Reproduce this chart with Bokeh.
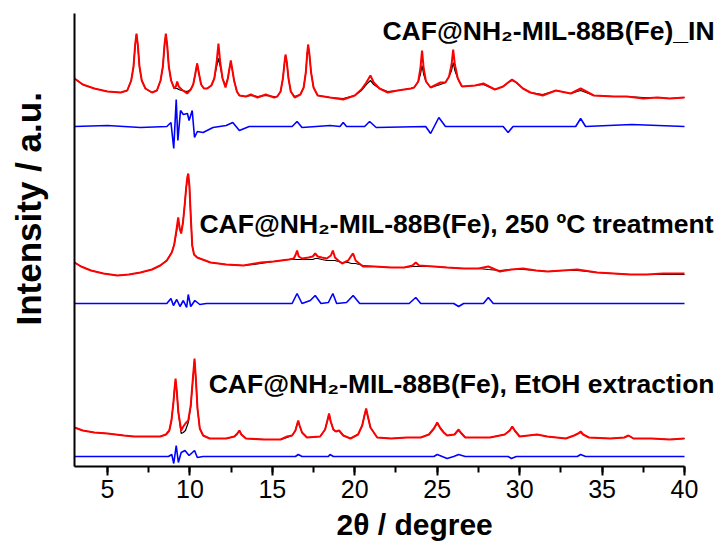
from bokeh.plotting import figure
from bokeh.models import Range1d, SingleIntervalTicker, FixedTicker, Label, Title
from bokeh.embed import file_html
from bokeh.resources import INLINE

# ---------------- data (intensity, arbitrary units) ----------------
# Top: CAF@NH2-MIL-88B(Fe)_IN
top_x = [3.0, 3.5, 4.2, 5.0, 5.8, 6.2, 6.44, 6.58, 6.68, 6.76,
         6.84, 6.94, 7.08, 7.3, 7.7, 8.0, 8.22, 8.36, 8.46, 8.54,
         8.62, 8.72, 8.86, 9.05, 9.15, 9.23, 9.32, 9.5, 9.83, 10.05,
         10.2, 10.32, 10.44, 10.56, 10.68, 10.85, 11.05, 11.3, 11.48, 11.62,
         11.73, 11.84, 11.98, 12.16, 12.3, 12.4, 12.48, 12.56, 12.68, 12.85,
         13.0, 13.4, 13.7, 14.1, 14.6, 15.1, 15.3, 15.5, 15.64, 15.74,
         15.8, 15.88, 15.98, 16.12, 16.35, 16.7, 16.9, 17.03, 17.11, 17.17,
         17.25, 17.35, 17.5, 17.75, 18.5, 19.3, 20.0, 20.4, 20.7, 20.95,
         21.15, 21.5, 22.0, 22.6, 23.4, 23.6, 23.85, 23.98, 24.08, 24.18,
         24.32, 24.6, 25.2, 25.5, 25.72, 25.87, 25.97, 26.07, 26.25, 26.5,
         27.3, 27.8, 28.5, 29.0, 29.3, 29.54, 29.8, 30.2, 30.65, 31.4,
         32.2, 33.1, 33.7, 34.5, 35.7, 36.5, 37.5, 38.35, 39.1, 40.0]
top_obs = [28, 22, 18, 15, 14, 16, 26, 40, 62, 73,
           62, 40, 26, 18, 14, 16, 26, 40, 62, 73,
           62, 40, 26, 18, 20, 25, 20, 17, 13, 17,
           22, 32, 43, 32, 22, 18, 18, 21, 28, 44,
           63, 44, 28, 19, 28, 38, 46, 38, 26, 15,
           11, 10, 12, 9, 12, 9, 10, 15, 28, 44,
           52, 44, 28, 15, 9, 12, 19, 34, 52, 62,
           52, 34, 19, 11, 9, 7, 11, 17, 24, 31,
           24, 18, 14, 16, 18, 19, 25, 38, 56, 38,
           25, 19, 24, 24, 30, 42, 57, 42, 28, 20,
           21, 23, 17, 20, 24, 27, 24, 18, 14, 11,
           16, 13, 18, 11, 10, 10, 8, 9, 8, 9]
top_calc = [28, 22, 18, 15, 14, 16, 26, 40, 61, 72,
            61, 40, 26, 18, 14, 16, 26, 40, 61, 72,
            61, 40, 26, 18, 18, 18, 17, 16, 15, 17,
            22, 32, 43, 32, 22, 18, 18, 21, 28, 40,
            48, 40, 28, 21, 28, 38, 45, 38, 26, 15,
            11, 10, 11, 10, 11, 10, 10, 15, 28, 44,
            51, 44, 28, 15, 10, 12, 19, 34, 52, 61,
            52, 34, 19, 11, 9, 8, 11, 16, 22, 26,
            22, 18, 15, 16, 18, 19, 25, 32, 41, 32,
            25, 19, 22, 24, 30, 36, 44, 36, 28, 20,
            21, 22, 17, 20, 24, 26, 24, 18, 14, 12,
            16, 13, 16, 11, 10, 10, 9, 9, 8, 9]
top_dx = [3.0, 5.0, 7.0, 8.6, 8.85, 9.02, 9.17, 9.27, 9.43, 9.6, 9.85, 9.95, 10.14, 10.28, 10.45, 10.8,
          11.4, 12.2, 12.6, 13.0, 13.6, 16.2, 16.5, 16.8, 18.5, 19.1, 19.3, 19.5, 20.6, 20.9, 21.3,
          24.3, 24.6, 25.1, 25.5, 29.0, 29.3, 29.6, 33.4, 33.7, 34.0, 36.8, 40.0]
top_diff = [0, 1, -1, 0, 4, -22, 27, -14, 16, 12, 13, 6, 16, -11, -5, -6,
            -1, 1, 4, -4, 0, 0, 5, -1, 1, 0, 4, 0, 0, 5, -1,
            0, -7, 9, 0, 0, -6, 0, 0, 8, 0, 2, 0]

# Middle: CAF@NH2-MIL-88B(Fe), 250 ºC treatment
mid_x = [3.0, 3.4, 4.0, 4.76, 5.6, 6.3, 7.0, 7.7, 8.2, 8.6,
         8.9, 9.05, 9.18, 9.29, 9.38, 9.47, 9.58, 9.68, 9.77, 9.84,
         9.9, 9.97, 10.05, 10.14, 10.25, 10.44, 11.25, 12.2, 13.25, 14.3,
         15.07, 16.0, 16.3, 16.42, 16.5, 16.6, 16.8, 17.2, 17.45, 17.6,
         17.75, 18.0, 18.3, 18.55, 18.67, 18.8, 19.0, 19.23, 19.6, 19.8,
         19.9, 20.05, 20.5, 21.2, 22.2, 23.0, 23.5, 23.7, 23.9, 24.8,
         25.6, 26.6, 27.5, 28.1, 28.8, 29.5, 30.2, 31.0, 31.7, 32.6,
         33.5, 34.7, 35.7, 36.7, 37.7, 38.7, 40.0]
mid_obs = [18, 14, 10, 7, 5, 6, 8, 11, 15, 20,
           28, 36, 50, 63, 52, 47, 58, 75, 92, 103,
           107, 95, 65, 35, 26, 23, 18, 16, 15, 18,
           19, 21, 22, 26, 30, 24, 22, 23, 24, 27,
           24, 23, 22, 25, 30, 23, 20, 17, 20, 25,
           27, 20, 14, 14, 13, 13, 15, 18, 15, 14,
           13, 12, 12, 14, 9, 11, 12, 10, 9, 10,
           11, 8, 7, 6, 6, 7, 7]
mid_calc = [18, 14, 10, 7, 5, 6, 8, 11, 15, 20,
            28, 36, 48, 60, 52, 48, 58, 75, 92, 101,
            104, 94, 65, 35, 26, 23, 18, 16, 15, 17,
            19, 21, 21, 21, 21, 21, 21, 21, 21, 22,
            22, 21, 20, 20, 20, 20, 19, 18, 18, 17,
            17, 17, 15, 14, 13, 13, 14, 14, 14, 14,
            13, 12, 12, 11, 10, 11, 11, 10, 9, 10,
            10, 8, 7, 6, 6, 6, 6]
mid_dx = [3.0, 8.6, 8.85, 9.0, 9.2, 9.4, 9.6, 9.8, 9.9, 10.05, 10.3, 10.6, 11.0, 16.2, 16.5, 16.8,
          17.3, 17.6, 17.95, 18.4, 18.67, 18.9, 19.5, 19.9, 20.3, 23.3, 23.7, 24.0, 26.0, 26.3,
          26.6, 27.8, 28.1, 28.4, 30.0, 40.0]
mid_diff = [0, 0, 5, -2, 4, -3, 3, -4, 9, -3, 3, -1, 0, 0, 10, 0,
            3, 8, 0, 1, 10, 0, 1, 8, 0, 0, 6, 0, 0, -3,
            0, 0, 6, 0, 0, 0]

# Bottom: CAF@NH2-MIL-88B(Fe), EtOH extraction
bot_x = [3.0, 3.5, 4.2, 5.0, 6.0, 6.6, 7.5, 8.2, 8.55, 8.75,
         8.88, 9.0, 9.07, 9.13, 9.2, 9.3, 9.47, 9.6, 9.73, 9.9,
         10.05, 10.17, 10.28, 10.36, 10.46, 10.6, 10.8, 11.2, 12.2, 12.7,
         12.88, 13.0, 13.12, 13.4, 14.5, 15.5, 15.9, 16.2, 16.4, 16.5,
         16.57, 16.65, 16.8, 17.1, 17.9, 18.2, 18.34, 18.44, 18.54, 18.7,
         18.85, 19.05, 19.3, 19.74, 20.2, 20.45, 20.6, 20.69, 20.78, 20.95,
         21.36, 22.2, 23.17, 24.0, 24.5, 24.8, 25.0, 25.2, 25.4, 25.6,
         26.05, 26.2, 26.3, 26.42, 26.7, 28.2, 29.1, 29.4, 29.55, 29.7,
         30.0, 31.06, 31.67, 32.8, 33.3, 33.55, 33.7, 33.85, 34.2, 35.5,
         36.35, 36.6, 36.9, 38.0, 39.1, 40.0]
bot_obs = [13, 10, 8, 7, 5, 4, 4, 4, 6, 10,
           20, 38, 52, 62, 50, 28, 10, 14, 17, 20,
           35, 60, 82, 62, 32, 12, 5, 2, 2, 4,
           7, 10, 6, 2, 1, 1, 4, 5, 10, 16,
           20, 15, 8, 3, 4, 11, 20, 27, 19, 11,
           9, 10, 5, 2, 6, 15, 26, 32, 25, 13,
           3, 2, 3, 3, 6, 12, 18, 12, 8, 5,
           6, 9, 11, 8, 3, 3, 6, 10, 14, 10,
           4, 6, 4, 2, 5, 7, 9, 6, 3, 2,
           3, 5, 2, 2, 1, 2]
bot_calc = [13, 10, 8, 7, 5, 4, 4, 4, 6, 10,
            20, 38, 52, 60, 50, 28, 7, 8, 10, 18,
            34, 59, 80, 62, 32, 12, 5, 2, 2, 4,
            7, 10, 6, 2, 1, 1, 3, 5, 10, 16,
            19, 15, 8, 3, 4, 11, 20, 26, 19, 11,
            9, 10, 5, 2, 6, 15, 26, 31, 25, 13,
            3, 2, 3, 3, 6, 12, 17, 12, 8, 5,
            6, 9, 10, 8, 3, 3, 6, 10, 14, 10,
            4, 6, 4, 2, 5, 7, 8, 6, 3, 2,
            3, 5, 2, 2, 1, 2]
bot_dx = [3.0, 8.7, 8.9, 9.02, 9.17, 9.3, 9.47, 9.7, 9.95, 10.28, 10.45, 10.8, 16.4, 16.57, 16.8,
          18.4, 18.5, 18.7, 24.8, 25.0, 25.3, 25.6, 26.0, 26.3, 26.7, 29.3, 29.5, 29.8, 33.5, 33.7,
          34.0, 40.0]
bot_diff = [0, 0, 2, -7, 11, -6, 4, 6, 1, 6, -1, 0, 0, 2, 0,
            0, 2, 0, 0, 2, 0, -2, 0, 2, 0, 0, -2, 0, 0, 2,
            0, 0]

labels = ["CAF@NH\u2082-MIL-88B(Fe)_IN",
          "CAF@NH\u2082-MIL-88B(Fe), 250 \u00baC treatment",
          "CAF@NH\u2082-MIL-88B(Fe), EtOH extraction"]
x_title = "2\u03b8 / degree"
y_title = "Intensity / a.u."

# ---------------- stacking offsets / label anchors ----------------
panels = [
    (top_x, top_obs, top_calc, top_dx, top_diff, 360, 340, 436, 41.82),
    (mid_x, mid_obs, mid_calc, mid_dx, mid_diff, 186, 163, 243, 41.76),
    (bot_x, bot_obs, bot_calc, bot_dx, bot_diff, 26, 10, 83, 41.82),
]

p = figure(width=716, height=549, x_range=Range1d(3, 41.94), y_range=Range1d(0, 453),
           output_backend="svg", toolbar_location=None,
           min_border_left=74, min_border_right=0, min_border_top=13, min_border_bottom=83)
p.grid.visible = False
p.outline_line_color = None
p.background_fill_color = "white"
p.border_fill_color = "white"

for (xs, obs, calc, dx, diff, off_o, off_d, lab_y, lab_x), lab in zip(panels, labels):
    p.line(xs, [v + off_o for v in calc], line_color="black", line_width=1.2)
    p.line(xs, [v + off_o for v in obs], line_color="#FF0000", line_width=2.0)
    p.line(dx, [v + off_d for v in diff], line_color="#0000FF", line_width=1.6)
    p.add_layout(Label(x=lab_x, y=lab_y, text=lab, text_align="right", text_baseline="alphabetic",
                       text_font="Liberation Sans", text_font_style="bold",
                       text_font_size="26.5px", text_color="black"))

# x axis
xa = p.xaxis[0]
xa.ticker = SingleIntervalTicker(interval=5, num_minor_ticks=2)
xa.bounds = (3, 40)
xa.axis_line_width = 2
xa.axis_line_color = "black"
xa.major_tick_out = 9
xa.major_tick_in = 0
xa.minor_tick_out = 6
xa.minor_tick_in = 0
xa.major_tick_line_width = 2
xa.minor_tick_line_width = 2
xa.major_tick_line_color = "black"
xa.minor_tick_line_color = "black"
xa.major_label_text_font = "Liberation Sans"
xa.major_label_text_font_size = "25px"
xa.major_label_text_color = "black"
xa.major_label_standoff = 4

# y axis: line only (one invisible, unlabeled tick reserves room for the title)
ya = p.yaxis[0]
ya.ticker = FixedTicker(ticks=[0])
ya.major_label_overrides = {0: ""}
ya.axis_line_width = 2
ya.axis_line_color = "black"
ya.major_tick_line_color = None
ya.minor_tick_line_color = None
ya.major_tick_out = 27
ya.major_tick_in = 0
ya.minor_tick_out = 0
ya.minor_tick_in = 0
ya.major_label_standoff = 0
ya.major_label_text_font_size = "0px"

# axis titles
p.add_layout(Title(text=x_title, align="left", offset=262, standoff=11,
                   text_font="Liberation Sans", text_font_style="bold", text_font_size="30px",
                   text_color="black"), "below")
p.add_layout(Title(text=y_title, align="left", offset=141, standoff=0,
                   text_font="Liberation Sans", text_font_style="bold", text_font_size="35px",
                   text_color="black"), "left")

open("out.html", "w").write(file_html(p, INLINE))
